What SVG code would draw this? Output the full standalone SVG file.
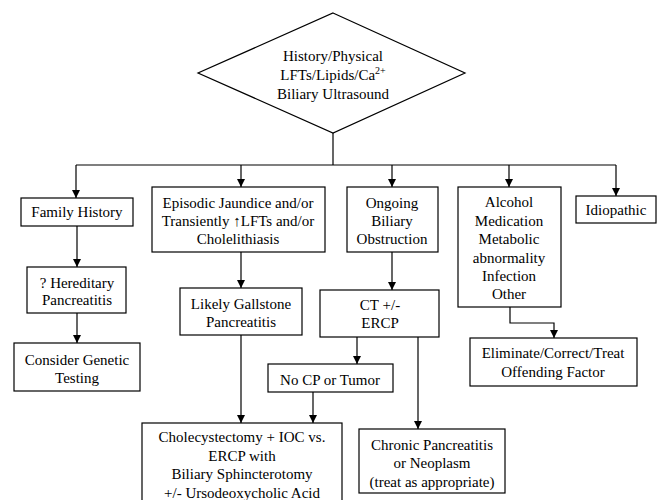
<svg xmlns="http://www.w3.org/2000/svg" width="663" height="500" viewBox="0 0 663 500">
<style>
.box{fill:#fff;stroke:#000;stroke-width:1.2}
text{font-size:15px;fill:#000;text-anchor:middle}
.ln{fill:none;stroke:#000;stroke-width:1.2}
</style>
<defs>
<marker id="ah" viewBox="0 0 10 10" refX="10" refY="5" markerWidth="8" markerHeight="9" markerUnits="userSpaceOnUse" orient="auto">
<path d="M0,0 L10,5 L0,10 z" fill="#000"/>
</marker>
</defs>
<rect width="663" height="500" fill="#fff"/>
<g id="connectors">
<line class="ln" x1="333" y1="133" x2="333" y2="165"/>
<line class="ln" x1="76" y1="165" x2="616" y2="165" stroke-width="1.6"/>
<line class="ln" x1="76" y1="165" x2="76" y2="198" marker-end="url(#ah)"/>
<line class="ln" x1="241" y1="165" x2="241" y2="187" marker-end="url(#ah)"/>
<line class="ln" x1="392" y1="165" x2="392" y2="187" marker-end="url(#ah)"/>
<line class="ln" x1="509" y1="165" x2="509" y2="187" marker-end="url(#ah)"/>
<line class="ln" x1="616" y1="165" x2="616" y2="196" marker-end="url(#ah)"/>
<line class="ln" x1="77" y1="226" x2="77" y2="267" marker-end="url(#ah)"/>
<line class="ln" x1="77" y1="313" x2="77" y2="343" marker-end="url(#ah)"/>
<line class="ln" x1="241" y1="252" x2="241" y2="288" marker-end="url(#ah)"/>
<line class="ln" x1="392" y1="252" x2="392" y2="290" marker-end="url(#ah)"/>
<line class="ln" x1="241" y1="335" x2="241" y2="423" marker-end="url(#ah)"/>
<line class="ln" x1="357" y1="337" x2="357" y2="364" marker-end="url(#ah)"/>
<line class="ln" x1="313" y1="392" x2="313" y2="423" marker-end="url(#ah)"/>
<line class="ln" x1="418" y1="337" x2="418" y2="429" marker-end="url(#ah)"/>
<polyline class="ln" points="510,307 510,323 554,323 554,338" marker-end="url(#ah)"/>
</g>
<g font-family="'Liberation Serif', 'DejaVu Serif', serif">
<g id="start">
<polygon class="box" points="333,13 465,73 333,133 198,73"/>
<text x="333" y="61">History/Physical</text>
<text x="333" y="80">LFTs/Lipids/Ca<tspan font-size="10" dy="-6">2+</tspan></text>
<text x="333" y="99">Biliary Ultrasound</text>
</g>
<g id="family">
<rect class="box" x="21" y="198" width="112" height="28"/>
<text x="77" y="217">Family History</text>
</g>
<g id="episodic">
<rect class="box" x="152" y="187" width="173" height="65"/>
<text x="238" y="208">Episodic Jaundice and/or</text>
<text x="238" y="226">Transiently ↑LFTs and/or</text>
<text x="238" y="244">Cholelithiasis</text>
</g>
<g id="ongoing">
<rect class="box" x="347" y="187" width="91" height="65"/>
<text x="392" y="208">Ongoing</text>
<text x="392" y="226">Biliary</text>
<text x="392" y="244">Obstruction</text>
</g>
<g id="alcohol">
<rect class="box" x="458" y="187" width="103" height="120"/>
<text x="509" y="207">Alcohol</text>
<text x="509" y="226">Medication</text>
<text x="509" y="244">Metabolic</text>
<text x="509" y="263">abnormality</text>
<text x="509" y="281">Infection</text>
<text x="509" y="299">Other</text>
</g>
<g id="idiopathic">
<rect class="box" x="576" y="196" width="80" height="27"/>
<text x="616" y="215">Idiopathic</text>
</g>
<g id="hereditary">
<rect class="box" x="27" y="267" width="99" height="46"/>
<text x="77" y="288">? Hereditary</text>
<text x="77" y="305">Pancreatitis</text>
</g>
<g id="gallstone">
<rect class="box" x="180" y="288" width="122" height="47"/>
<text x="241" y="309">Likely Gallstone</text>
<text x="241" y="327">Pancreatitis</text>
</g>
<g id="ct">
<rect class="box" x="320" y="290" width="119" height="47"/>
<text x="380" y="310">CT +/-</text>
<text x="380" y="328">ERCP</text>
</g>
<g id="genetic">
<rect class="box" x="14" y="343" width="126" height="48"/>
<text x="77" y="365">Consider Genetic</text>
<text x="77" y="383">Testing</text>
</g>
<g id="nocp">
<rect class="box" x="268" y="364" width="125" height="28"/>
<text x="330" y="385">No CP or Tumor</text>
</g>
<g id="eliminate">
<rect class="box" x="470" y="338" width="167" height="48"/>
<text x="553" y="358">Eliminate/Correct/Treat</text>
<text x="553" y="377">Offending Factor</text>
</g>
<g id="chole">
<rect class="box" x="142" y="423" width="200" height="90"/>
<text x="242" y="442">Cholecystectomy + IOC vs.</text>
<text x="242" y="461">ERCP with</text>
<text x="242" y="479">Biliary Sphincterotomy</text>
<text x="242" y="498">+/- Ursodeoxycholic Acid</text>
</g>
<g id="chronic">
<rect class="box" x="359" y="429" width="146" height="64"/>
<text x="432" y="450">Chronic Pancreatitis</text>
<text x="432" y="468">or Neoplasm</text>
<text x="432" y="487">(treat as appropriate)</text>
</g>
</g>
</svg>
